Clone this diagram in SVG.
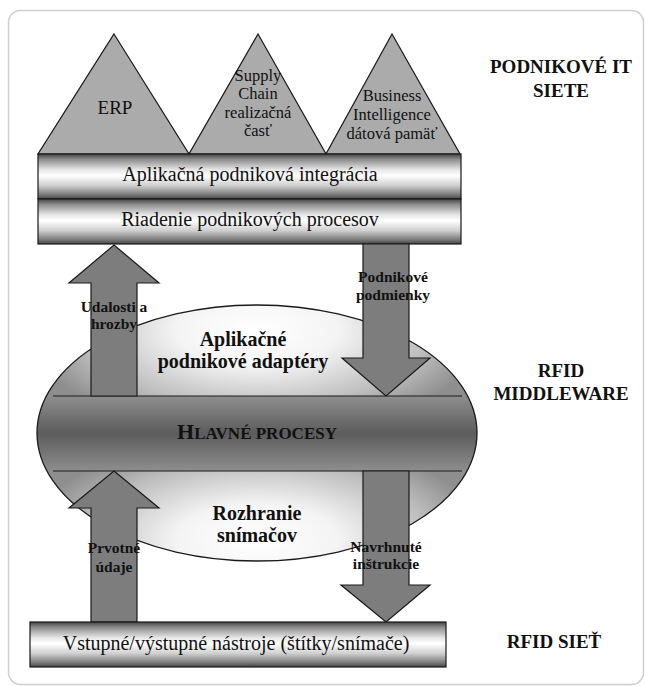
<svg xmlns="http://www.w3.org/2000/svg" width="645" height="686" viewBox="0 0 645 686">
<defs>
<style>
.tri{fill:#ababab;stroke:#1a1a1a;stroke-width:1.2}
.bar{fill:url(#cyl);stroke:#1a1a1a;stroke-width:1.2}
.arr{fill:#7d7d7d;stroke:#1a1a1a;stroke-width:1.2}
.t{font-family:"Liberation Serif","Times New Roman",serif;fill:#111;text-anchor:middle}
.reg{font-size:16.5px}
.big{font-size:20px}
.lbl{font-size:15.5px;font-weight:bold}
.sec{font-size:20px;font-weight:bold}
.side{font-size:19px;font-weight:bold}
</style>
<linearGradient id="cyl" x1="0" y1="0" x2="0" y2="1">
<stop offset="0" stop-color="#444"/>
<stop offset="0.12" stop-color="#8c8c8c"/>
<stop offset="0.35" stop-color="#e6e6e6"/>
<stop offset="0.48" stop-color="#ffffff"/>
<stop offset="0.7" stop-color="#cfcfcf"/>
<stop offset="0.9" stop-color="#7c7c7c"/>
<stop offset="1" stop-color="#444"/>
</linearGradient>
<radialGradient id="capTop" gradientUnits="userSpaceOnUse" cx="257" cy="330" r="230" gradientTransform="translate(257 330) scale(1 0.45) translate(-257 -330)">
<stop offset="0" stop-color="#ffffff"/>
<stop offset="0.35" stop-color="#f4f4f4"/>
<stop offset="0.75" stop-color="#bdbdbd"/>
<stop offset="1" stop-color="#8e8e8e"/>
</radialGradient>
<radialGradient id="capBot" gradientUnits="userSpaceOnUse" cx="257" cy="540" r="230" gradientTransform="translate(257 540) scale(1 0.45) translate(-257 -540)">
<stop offset="0" stop-color="#ffffff"/>
<stop offset="0.35" stop-color="#f4f4f4"/>
<stop offset="0.75" stop-color="#bdbdbd"/>
<stop offset="1" stop-color="#8e8e8e"/>
</radialGradient>
<linearGradient id="band" gradientUnits="userSpaceOnUse" x1="0" y1="396" x2="0" y2="471">
<stop offset="0" stop-color="#8e8e8e"/>
<stop offset="0.5" stop-color="#5c5c5c"/>
<stop offset="1" stop-color="#8e8e8e"/>
</linearGradient>
<clipPath id="ell"><ellipse cx="257" cy="433" rx="220" ry="128"/></clipPath>
</defs>

<rect x="8.5" y="10.5" width="635" height="674" rx="12" fill="#fff" stroke="#cfcfcf" stroke-width="1.5"/>

<g id="erp">
<polygon class="tri" points="114,34 189,154 38,154"/>
<text class="t" x="115" y="114" style="font-size:19px">ERP</text>
</g>
<g id="supply-chain">
<polygon class="tri" points="258,34 326,154 189,154"/>
<text class="t reg" x="258" y="81">Supply</text>
<text class="t reg" x="258" y="99">Chain</text>
<text class="t reg" x="258" y="118">realizačná</text>
<text class="t reg" x="258" y="136">časť</text>
</g>
<g id="business-intelligence">
<polygon class="tri" points="392,34 460,154 326,154"/>
<text class="t reg" x="392" y="101">Business</text>
<text class="t reg" x="392" y="120">Intelligence</text>
<text class="t reg" x="392" y="139">dátová pamäť</text>
</g>

<g id="integracia">
<rect class="bar" x="38" y="154" width="423" height="45"/>
<text class="t big" x="250" y="181">Aplikačná podniková integrácia</text>
</g>
<g id="riadenie">
<rect class="bar" x="38" y="199" width="423" height="45"/>
<text class="t big" x="250" y="226">Riadenie podnikových procesov</text>
</g>

<g id="middleware">
<g clip-path="url(#ell)">
<rect x="30" y="300" width="460" height="96" fill="url(#capTop)"/>
<rect x="30" y="396" width="460" height="75" fill="url(#band)"/>
<rect x="30" y="471" width="460" height="95" fill="url(#capBot)"/>
</g>
<ellipse cx="257" cy="433" rx="220" ry="128" fill="none" stroke="#1a1a1a" stroke-width="1.3"/>
<line x1="53" y1="396" x2="462" y2="396" stroke="#1a1a1a" stroke-width="1.2"/>
<line x1="53" y1="471" x2="462" y2="471" stroke="#1a1a1a" stroke-width="1.2"/>
</g>

<g id="connectors">
<polygon class="arr" points="114,245 159,283 137,283 137,396 91,396 91,283 69,283"/>
<polygon class="arr" points="363,244 409,244 409,358 430,358 386,396 342,358 363,358"/>
<polygon class="arr" points="114,471 159,508 137,508 137,622 91,622 91,508 69,508"/>
<polygon class="arr" points="363,471 409,471 409,585 430,585 386,622 341,585 363,585"/>
<text class="t lbl" x="114" y="312">Udalosti a</text>
<text class="t lbl" x="114" y="329">hrozby</text>
<text class="t lbl" x="393" y="282">Podnikové</text>
<text class="t lbl" x="393" y="300">podmienky</text>
<text class="t lbl" x="114" y="553">Prvotné</text>
<text class="t lbl" x="114" y="572">údaje</text>
<text class="t lbl" x="386" y="552">Navrhnuté</text>
<text class="t lbl" x="386" y="569">inštrukcie</text>
</g>

<g id="adaptery">
<text class="t sec" x="243" y="346">Aplikačné</text>
<text class="t sec" x="243" y="368">podnikové adaptéry</text>
</g>
<g id="hlavne-procesy">
<text class="t" x="257" y="439" font-weight="bold"><tspan font-size="22">H</tspan><tspan font-size="17">LAVNÉ PROCESY</tspan></text>
</g>
<g id="rozhranie">
<text class="t sec" x="257" y="520">Rozhranie</text>
<text class="t sec" x="257" y="542">snímačov</text>
</g>

<g id="nastroje">
<rect class="bar" x="30" y="622" width="416" height="45"/>
<text class="t big" x="236" y="650">Vstupné/výstupné nástroje (štítky/snímače)</text>
</g>

<g id="layer-labels">
<text class="t side" x="561" y="73">PODNIKOVÉ IT</text>
<text class="t side" x="561" y="97">SIETE</text>
<text class="t side" x="561" y="377">RFID</text>
<text class="t side" x="561" y="400">MIDDLEWARE</text>
<text class="t side" x="554" y="648">RFID SIEŤ</text>
</g>
</svg>
